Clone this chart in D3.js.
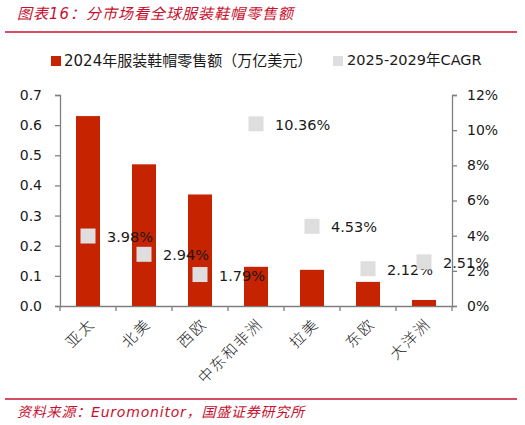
<!DOCTYPE html>
<html>
<head>
<meta charset="utf-8">
<script src="https://cdn.jsdelivr.net/npm/d3@7"></script>
<style>
  body { margin: 0; background: #fff; }
  svg { display: block; }
</style>
</head>
<body>
<div id="chart"></div>
<script>
const [WIDTH, HEIGHT] = [525, 425];

const categories = ['亚太', '北美', '西欧', '中东和非洲', '拉美', '东欧', '大洋洲'];
const sales2024 = [0.63, 0.47, 0.37, 0.13, 0.12, 0.08, 0.02];
const cagr = [3.98, 2.94, 1.79, 10.36, 4.53, 2.12, 2.51];
const leftTicks = [0, 0.1, 0.2, 0.3, 0.4, 0.5, 0.6, 0.7];
const rightTicks = [0, 2, 4, 6, 8, 10, 12];

const STYLES = {
    bar: '#C62300',
    square: '#DEDEDE',
    axis: '#808080',
    red: '#C8102E',
    text: '#1a1a1a',
    font: '"DejaVu Sans", Verdana, sans-serif',
    mixed: '"DejaVu Sans", "Noto Sans CJK SC", sans-serif',
    cjk: '"Noto Sans CJK SC", sans-serif',
}

const M = { left: 60, right: 452, top: 95, bottom: 306 };

const svg = d3.select('#chart').append('svg')
    .attr('width', WIDTH)
    .attr('height', HEIGHT)
    .attr('viewBox', `0 0 ${WIDTH} ${HEIGHT}`)

// title and rules
svg.append('text')
    .attr('x', 17).attr('y', 19)
    .attr('fill', STYLES.red)
    .attr('font-family', STYLES.mixed)
    .attr('font-style', 'italic')
    .attr('font-size', 15)
    .attr('letter-spacing', 1)
    .text('图表16：分市场看全球服装鞋帽零售额')

svg.append('line')
    .attr('x1', 5).attr('x2', 517).attr('y1', 32).attr('y2', 32)
    .attr('stroke', STYLES.red).attr('stroke-width', 1.5)

svg.append('line')
    .attr('x1', 5).attr('x2', 517).attr('y1', 399).attr('y2', 399)
    .attr('stroke', STYLES.red).attr('stroke-width', 1.5)

svg.append('text')
    .attr('x', 17).attr('y', 417)
    .attr('fill', STYLES.red)
    .attr('font-family', STYLES.mixed)
    .attr('font-style', 'italic')
    .attr('font-size', 14)
    .attr('letter-spacing', 0.8)
    .text('资料来源：Euromonitor，国盛证券研究所')

// scales
const x = d3.scaleBand()
    .domain(categories)
    .range([M.left, M.right])
    .paddingInner(0)

const yL = d3.scaleLinear().domain([0, 0.7]).range([M.bottom, M.top])
const yR = d3.scaleLinear().domain([0, 12]).range([M.bottom, M.top])

// axes
const leftAxis = svg.append('g')
    .attr('transform', `translate(${M.left},0)`)
    .call(d3.axisLeft(yL).tickValues(leftTicks).tickFormat(d3.format('.1f')).tickSizeOuter(0).tickSize(5).tickPadding(13))

const rightAxis = svg.append('g')
    .attr('transform', `translate(${M.right},0)`)
    .call(d3.axisRight(yR).tickValues(rightTicks).tickFormat((d) => d + '%').tickSizeOuter(0).tickSize(5).tickPadding(10))

const bottomAxis = svg.append('g')
    .attr('transform', `translate(0,${M.bottom})`)
    .call(d3.axisBottom(x).tickSize(0).tickSizeOuter(0).tickFormat(''))

// tick marks at category boundaries
const boundaries = categories.map((c) => x(c)).concat([M.right])
bottomAxis.selectAll('.bound')
    .data(boundaries)
    .enter().append('line')
    .attr('class', 'bound')
    .attr('x1', (d) => d).attr('x2', (d) => d)
    .attr('y1', 0).attr('y2', 5)

for (const ax of [leftAxis, rightAxis, bottomAxis]) {
    ax.selectAll('path, line').attr('stroke', STYLES.axis).attr('stroke-width', 1.3)
    ax.selectAll('text')
        .attr('fill', STYLES.text)
        .attr('font-family', STYLES.font)
        .attr('font-size', 14)
}

// x labels, rotated
svg.append('g').selectAll('text')
    .data(categories)
    .enter().append('text')
    .attr('transform', (d) => `translate(${x(d) + x.bandwidth() / 2 + 5},${M.bottom + 16}) rotate(-45)`)
    .attr('text-anchor', 'end')
    .attr('dominant-baseline', 'middle')
    .attr('fill', STYLES.text)
    .attr('font-family', STYLES.cjk)
    .attr('font-weight', 300)
    .attr('font-size', 15)
    .attr('letter-spacing', 1.8)
    .text((d) => d)

// bars
const barW = 24
svg.append('g').selectAll('rect')
    .data(sales2024)
    .enter().append('rect')
    .attr('x', (d, i) => x(categories[i]) + x.bandwidth() / 2 - barW / 2)
    .attr('y', (d) => yL(d))
    .attr('width', barW)
    .attr('height', (d) => yL(0) - yL(d))
    .attr('fill', STYLES.bar)

// CAGR squares and labels
const sq = 15
const pts = svg.append('g').selectAll('g')
    .data(cagr)
    .enter().append('g')
    .attr('transform', (d, i) => `translate(${x(categories[i]) + x.bandwidth() / 2},${yR(d)})`)

pts.append('rect')
    .attr('x', -sq / 2).attr('y', -sq / 2)
    .attr('width', sq).attr('height', sq)
    .attr('fill', STYLES.square)

pts.append('text')
    .attr('x', 19).attr('y', 2)
    .attr('dominant-baseline', 'middle')
    .attr('fill', STYLES.text)
    .attr('font-family', STYLES.font)
    .attr('font-size', 14.5)
    .text((d) => d.toFixed(2) + '%')

// legend
svg.append('rect').attr('x', 51).attr('y', 56).attr('width', 10).attr('height', 10).attr('fill', STYLES.bar)
svg.append('text')
    .attr('x', 64).attr('y', 61)
    .attr('dominant-baseline', 'middle')
    .attr('fill', STYLES.text)
    .attr('font-family', STYLES.mixed)
    .attr('font-size', 15)
    .text('2024年服装鞋帽零售额（万亿美元）')
svg.append('rect').attr('x', 333).attr('y', 56).attr('width', 10).attr('height', 10).attr('fill', STYLES.square)
svg.append('text')
    .attr('x', 347).attr('y', 61)
    .attr('dominant-baseline', 'middle')
    .attr('fill', STYLES.text)
    .attr('font-family', STYLES.mixed)
    .attr('font-size', 14.5)
    .text('2025-2029年CAGR')
</script>
</body>
</html>
